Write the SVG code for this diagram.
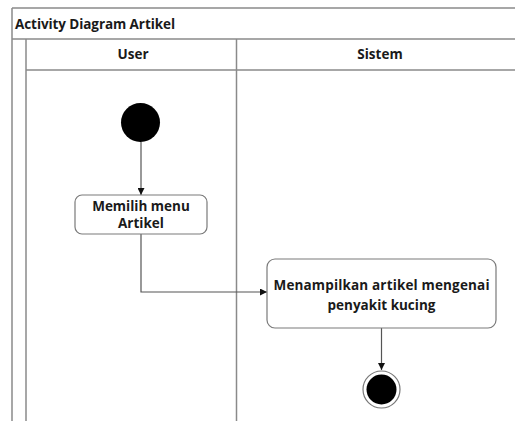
<svg xmlns="http://www.w3.org/2000/svg" width="515" height="421" viewBox="0 0 515 421">
  <defs>
    <marker id="arrow" viewBox="0 0 10 10" refX="10" refY="5" markerWidth="7" markerHeight="7" orient="auto" markerUnits="userSpaceOnUse">
      <path d="M0,0 L10,5 L0,10 z" fill="#111"/>
    </marker>
  </defs>
  <style>
    .frame { stroke: #8a8a8a; stroke-width: 1.5; fill: none; }
    .txt { font-family: "Open Sans", "Liberation Sans", sans-serif; font-weight: 700; fill: #1a1a1a; }
    .node { fill: #ffffff; stroke: #7a7a7a; stroke-width: 1.2; }
    .edge { stroke: #555; stroke-width: 1.2; fill: none; marker-end: url(#arrow); }
  </style>
  <rect width="515" height="421" fill="#ffffff"/>

  <!-- swimlane frame -->
  <g id="swimlanes">
    <line class="frame" x1="12" y1="8" x2="515" y2="8"/>
    <line class="frame" x1="12" y1="8" x2="12" y2="421"/>
    <line class="frame" x1="12" y1="39" x2="515" y2="39"/>
    <line class="frame" x1="26" y1="39" x2="26" y2="421"/>
    <line class="frame" x1="26" y1="70" x2="515" y2="70"/>
    <line class="frame" x1="236.5" y1="39" x2="236.5" y2="421"/>
    <text class="txt" x="15" y="29" font-size="13.5" textLength="160">Activity Diagram Artikel</text>
    <text class="txt" x="133" y="59" font-size="13.5" text-anchor="middle">User</text>
    <text class="txt" x="380" y="59" font-size="13.5" text-anchor="middle">Sistem</text>
  </g>

  <!-- connectors -->
  <g id="connectors">
    <path class="edge" d="M141,142 L141,195"/>
    <path class="edge" d="M141,234 L141,292 L267,292"/>
    <path class="edge" d="M381.5,328 L381.5,370"/>
  </g>

  <g id="start">
    <circle cx="140.5" cy="122.5" r="19.5" fill="#000"/>
  </g>

  <g id="memilih-menu">
    <rect class="node" x="75" y="195" width="132" height="39" rx="7"/>
    <text class="txt" x="141" y="211" font-size="13.5" text-anchor="middle">Memilih menu</text>
    <text class="txt" x="141" y="228" font-size="13.5" text-anchor="middle">Artikel</text>
  </g>

  <g id="menampilkan-artikel">
    <rect class="node" x="267" y="259" width="229" height="69" rx="8"/>
    <text class="txt" x="381.5" y="290" font-size="13.5" text-anchor="middle" textLength="216">Menampilkan artikel mengenai</text>
    <text class="txt" x="381.5" y="310" font-size="13.5" text-anchor="middle">penyakit kucing</text>
  </g>

  <g id="end">
    <circle cx="381.5" cy="389.5" r="18.5" fill="#fff" stroke="#777" stroke-width="1.2"/>
    <circle cx="381.5" cy="389.5" r="15" fill="#000"/>
  </g>
</svg>
